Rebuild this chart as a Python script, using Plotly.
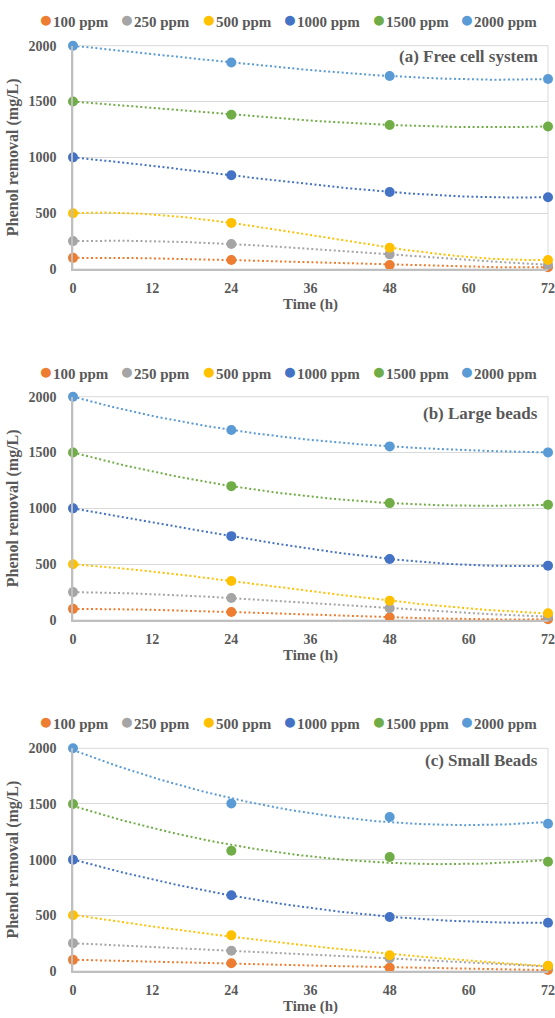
import numpy as np
import plotly.graph_objects as go

time_h = [0, 24, 48, 72]
series_names = ["100 ppm", "250 ppm", "500 ppm", "1000 ppm", "1500 ppm", "2000 ppm"]
colors = ["#ED7D31", "#A5A5A5", "#FFC000", "#4472C4", "#70AD47", "#5B9BD5"]

free_cell = {
    "100 ppm": [100, 80, 36, 15],
    "250 ppm": [250, 224, 131, 38],
    "500 ppm": [500, 413, 191, 81],
    "1000 ppm": [1000, 840, 690, 643],
    "1500 ppm": [1500, 1381, 1290, 1277],
    "2000 ppm": [2000, 1850, 1728, 1701],
}
large_beads = {
    "100 ppm": [100, 72, 24, 6],
    "250 ppm": [250, 197, 105, 30],
    "500 ppm": [500, 350, 173, 60],
    "1000 ppm": [1000, 751, 547, 487],
    "1500 ppm": [1500, 1199, 1047, 1032],
    "2000 ppm": [2000, 1702, 1555, 1501],
}
small_beads = {
    "100 ppm": [100, 69, 30, 9],
    "250 ppm": [250, 182, 114, 40],
    "500 ppm": [500, 320, 141, 48],
    "1000 ppm": [1000, 680, 485, 434],
    "1500 ppm": [1500, 1080, 1024, 981],
    "2000 ppm": [2000, 1504, 1383, 1323],
}
panel_labels = ["(a) Free cell system", "(b) Large beads", "(c) Small Beads"]
x_ticks = [0, 12, 24, 36, 48, 60, 72]
y_ticks = [0, 500, 1000, 1500, 2000]

panels = [free_cell, large_beads, small_beads]
trend_order = [3, 3, 2]  # polynomial trendline order per panel

W, H = 555, 1018
FONT = "Liberation Serif, Times New Roman, serif"
TXT = "#595959"

# pixel layout of each plot area: (top, bottom)
plot_px = [(45.7, 269), (396.7, 620), (748.3, 971)]
legend_px = [19.5, 371, 721.5]
legend_item_left = [37, 118, 199.5, 281, 369.5, 458]
label_px = [57, 414, 760]
x_left, x_right = 73, 548

fig = go.Figure()
xfit = np.linspace(0, 72, 145)

for p, data in enumerate(panels):
    xa = "x" if p == 0 else f"x{p+1}"
    ya = "y" if p == 0 else f"y{p+1}"
    for name, col in zip(series_names, colors):
        vals = data[name]
        coef = np.polyfit(time_h, vals, trend_order[p])
        fig.add_trace(go.Scatter(
            x=xfit, y=np.polyval(coef, xfit), mode="lines",
            line=dict(color=col, width=2, dash="2px,2.5px"),
            xaxis=xa, yaxis=ya, showlegend=False, hoverinfo="skip",
            cliponaxis=False,
        ))
    for name, col in zip(series_names, colors):
        fig.add_trace(go.Scatter(
            x=time_h, y=data[name], mode="markers", name=name,
            marker=dict(color=col, size=10),
            xaxis=xa, yaxis=ya, showlegend=False, cliponaxis=False,
        ))

layout = dict(
    width=W, height=H, autosize=False,
    margin=dict(l=0, r=0, t=0, b=0),
    plot_bgcolor="white", paper_bgcolor="white",
    font=dict(family=FONT, color=TXT),
    shapes=[], annotations=[], showlegend=False,
)

for p in range(3):
    top, bot = plot_px[p]
    sfx = "" if p == 0 else str(p + 1)
    layout["xaxis" + sfx] = dict(
        domain=[x_left / W, x_right / W], range=[0, 72],
        anchor="y" + sfx, tickvals=x_ticks, automargin=False,
        ticks="outside", ticklen=5, tickcolor="rgba(0,0,0,0)",
        tickfont=dict(family=FONT, size=14, color=TXT, weight="bold"),
        showgrid=False, zeroline=False,
        showline=True, linecolor="#BFBFBF", linewidth=1.5,
        title=dict(text="Time (h)", font=dict(family=FONT, size=15, color=TXT, weight="bold"), standoff=4),
    )
    layout["yaxis" + sfx] = dict(
        domain=[1 - bot / H, 1 - top / H], range=[0, 2000],
        anchor="x" + sfx, tickvals=y_ticks, automargin=False,
        ticks="outside", ticklen=12, tickcolor="rgba(0,0,0,0)",
        tickfont=dict(family=FONT, size=14, color=TXT, weight="bold"),
        showgrid=True, gridcolor="#D9D9D9", gridwidth=1, zeroline=False,
        showline=True, linecolor="#BFBFBF", linewidth=1.5,
        title=dict(text="Phenol removal (mg/L)", font=dict(family=FONT, size=16, color=TXT, weight="bold"), standoff=6),
    )
    layout["shapes"].append(dict(
        type="rect", xref=f"x{sfx} domain", yref=f"y{sfx} domain",
        x0=0, x1=1, y0=0, y1=1, line=dict(color="#D9D9D9", width=1), layer="below",
    ))
    layout["annotations"].append(dict(
        text=panel_labels[p], xref="paper", yref="paper",
        x=540 / W, y=1 - label_px[p] / H, xanchor="right", yanchor="middle",
        showarrow=False, font=dict(family=FONT, size=17, color=TXT, weight="bold"),
    ))
    # legend row (one entry per series)
    for name, col, lx in zip(series_names, colors, legend_item_left):
        layout["annotations"].append(dict(
            text=f"<span style='color:{col};font-size:23px'>●</span>{name}",
            xref="paper", yref="paper", x=lx / W, y=1 - legend_px[p] / H,
            xanchor="left", yanchor="middle", showarrow=False,
            font=dict(family=FONT, size=15, color=TXT, weight="bold"),
        ))

fig.update_layout(**layout)
fig.write_html("out.html")
